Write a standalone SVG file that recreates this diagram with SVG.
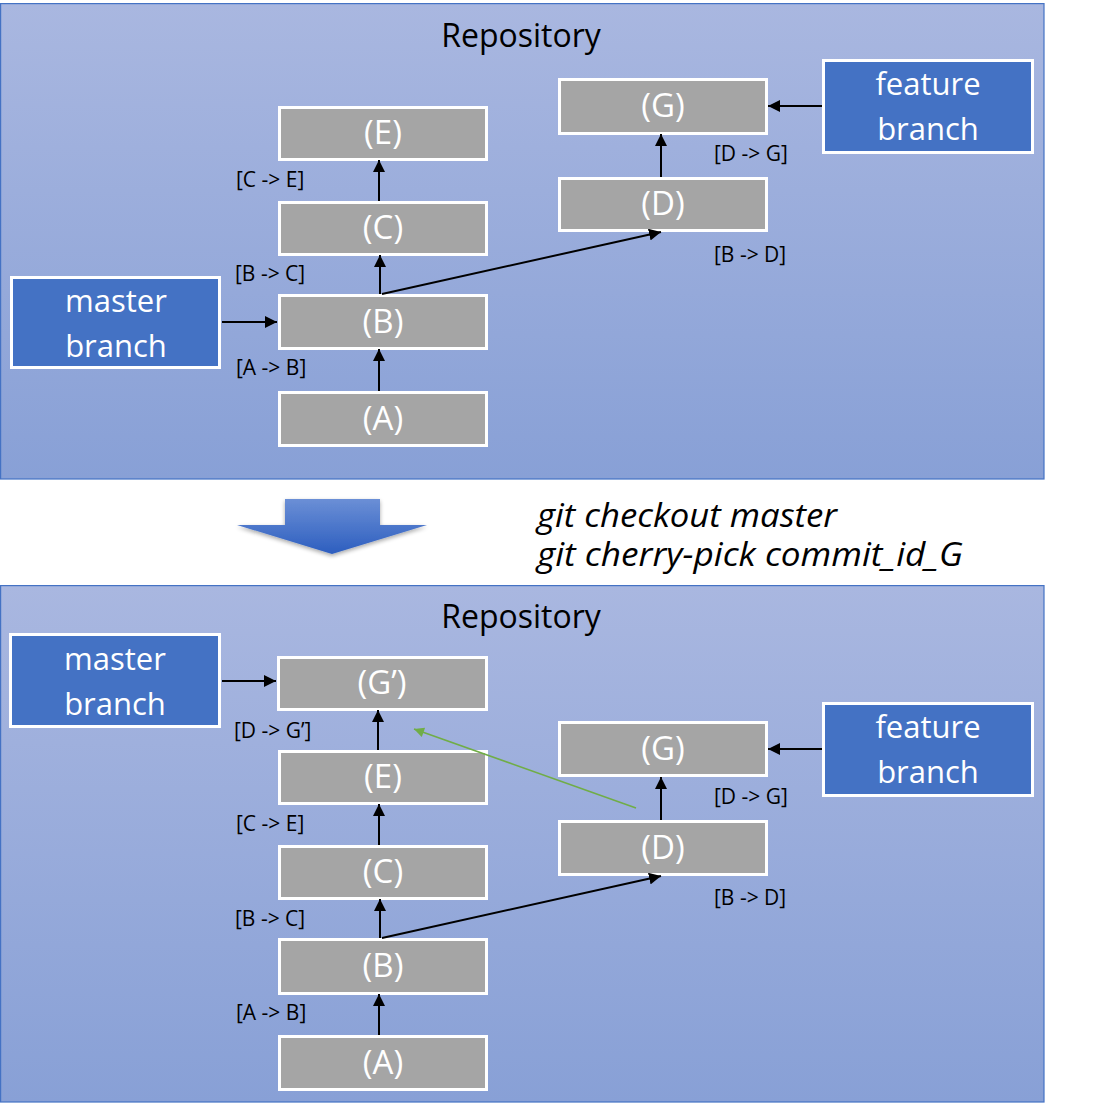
<svg xmlns="http://www.w3.org/2000/svg" width="1095" height="1108" viewBox="0 0 1095 1108">
<defs>
<linearGradient id="panelGrad" x1="0" y1="0" x2="0" y2="1">
<stop offset="0" stop-color="#a9b7e0"/>
<stop offset="1" stop-color="#88a0d6"/>
</linearGradient>
<linearGradient id="arrowGrad" x1="0" y1="0" x2="0" y2="1">
<stop offset="0" stop-color="#6b8fd6"/>
<stop offset="1" stop-color="#2d5ebf"/>
</linearGradient>
<filter id="shadow" x="-20%" y="-20%" width="140%" height="160%">
<feGaussianBlur in="SourceAlpha" stdDeviation="2"/>
<feOffset dx="0" dy="2" result="b"/>
<feComponentTransfer><feFuncA type="linear" slope="0.35"/></feComponentTransfer>
<feMerge><feMergeNode/><feMergeNode in="SourceGraphic"/></feMerge>
</filter>
<marker id="ah" markerWidth="12" markerHeight="12" refX="10" refY="5" orient="auto" markerUnits="userSpaceOnUse" viewBox="0 0 10 10">
<path d="M0,0 L10,5 L0,10 Z" fill="#000"/>
</marker>
<marker id="ahg" markerWidth="12" markerHeight="10" refX="10" refY="5" orient="auto" markerUnits="userSpaceOnUse" viewBox="0 0 10 10">
<path d="M0,0 L10,5 L0,10 Z" fill="#70ad47"/>
</marker>
</defs>
<style>
.panel{fill:url(#panelGrad);stroke:#4472c4;stroke-width:1.2}
.commit{fill:#a5a5a5;stroke:#fff;stroke-width:3}
.branch{fill:#4472c4;stroke:#fff;stroke-width:3}
.ctext{font-family:"Open Sans","Noto Sans",sans-serif;font-size:33px;fill:#fff;text-anchor:middle}
.btext{font-family:"Open Sans","Noto Sans",sans-serif;font-size:31px;fill:#fff;text-anchor:middle}
.lbl{font-family:"Open Sans","Noto Sans",sans-serif;font-size:21px;fill:#000}
.title{font-family:"Open Sans","Noto Sans",sans-serif;font-size:32px;fill:#000;text-anchor:middle}
.cmd{font-family:"Open Sans","Noto Sans",sans-serif;font-size:32px;font-style:italic;fill:#000}
.conn{stroke:#000;stroke-width:2;fill:none;marker-end:url(#ah)}
.green{stroke:#70ad47;stroke-width:1.6;fill:none;marker-end:url(#ahg)}
</style>
<rect width="1095" height="1108" fill="#fff"/>

<!-- Top panel -->
<g id="repo-top">
<rect class="panel" x="0.6" y="3.6" width="1043.4" height="475.4"/>
<text class="title" x="521" y="47">Repository</text>
</g>
<g id="top-E"><rect class="commit" x="279.5" y="107.5" width="207" height="52"/><text class="ctext" x="383" y="144">(E)</text></g>
<g id="top-C"><rect class="commit" x="279.5" y="202.5" width="207" height="52"/><text class="ctext" x="383" y="239">(C)</text></g>
<g id="top-B"><rect class="commit" x="279.5" y="295.5" width="207" height="53"/><text class="ctext" x="383" y="333">(B)</text></g>
<g id="top-A"><rect class="commit" x="279.5" y="392.5" width="207" height="53"/><text class="ctext" x="383" y="430">(A)</text></g>
<g id="top-G"><rect class="commit" x="559.5" y="79.5" width="207" height="54"/><text class="ctext" x="663" y="117">(G)</text></g>
<g id="top-D"><rect class="commit" x="559.5" y="178.5" width="207" height="52"/><text class="ctext" x="663" y="215">(D)</text></g>
<g id="top-master"><rect class="branch" x="11.5" y="277.5" width="208" height="90"/><text class="btext" x="116" y="312">master</text><text class="btext" x="116" y="357">branch</text></g>
<g id="top-feature"><rect class="branch" x="823.5" y="60.5" width="209" height="92"/><text class="btext" x="928" y="95">feature</text><text class="btext" x="928" y="140">branch</text></g>
<g id="top-labels">
<text class="lbl" x="236" y="187">[C -&gt; E]</text>
<text class="lbl" x="235" y="281">[B -&gt; C]</text>
<text class="lbl" x="236" y="375">[A -&gt; B]</text>
<text class="lbl" x="714" y="161">[D -&gt; G]</text>
<text class="lbl" x="714" y="262">[B -&gt; D]</text>
</g>
<g id="top-connectors">
<line class="conn" x1="379" y1="391" x2="379" y2="349"/>
<line class="conn" x1="380" y1="294" x2="380" y2="255"/>
<line class="conn" x1="379" y1="201" x2="379" y2="160"/>
<line class="conn" x1="382" y1="294" x2="661" y2="232"/>
<line class="conn" x1="661" y1="177" x2="661" y2="134"/>
<line class="conn" x1="222" y1="322" x2="277" y2="322"/>
<line class="conn" x1="822" y1="106" x2="768" y2="106"/>
</g>

<!-- Transition -->
<g id="transition">
<path d="M285,499 L380,499 L380,525 L427,525 L332,554 L237,525 L285,525 Z" fill="url(#arrowGrad)" filter="url(#shadow)"/>
<text class="cmd" x="537" y="527" textLength="300" lengthAdjust="spacingAndGlyphs">git checkout master</text>
<text class="cmd" x="537" y="566" textLength="426" lengthAdjust="spacingAndGlyphs">git cherry-pick commit_id_G</text>
</g>

<!-- Bottom panel -->
<g id="repo-bottom">
<rect class="panel" x="0.6" y="585.6" width="1043.4" height="516.4"/>
<text class="title" x="521" y="628">Repository</text>
</g>
<g id="bot-Gp"><rect class="commit" x="278.5" y="657.5" width="208" height="52"/><text class="ctext" x="382" y="694">(G’)</text></g>
<g id="bot-E"><rect class="commit" x="279.5" y="751.5" width="207" height="52"/><text class="ctext" x="383" y="788">(E)</text></g>
<g id="bot-C"><rect class="commit" x="279.5" y="846.5" width="207" height="52"/><text class="ctext" x="383" y="883">(C)</text></g>
<g id="bot-B"><rect class="commit" x="279.5" y="939.5" width="207" height="54"/><text class="ctext" x="383" y="977">(B)</text></g>
<g id="bot-A"><rect class="commit" x="279.5" y="1036.5" width="207" height="53"/><text class="ctext" x="383" y="1074">(A)</text></g>
<g id="bot-G"><rect class="commit" x="559.5" y="722.5" width="207" height="53"/><text class="ctext" x="663" y="760">(G)</text></g>
<g id="bot-D"><rect class="commit" x="559.5" y="821.5" width="207" height="53"/><text class="ctext" x="663" y="859">(D)</text></g>
<g id="bot-master"><rect class="branch" x="10.5" y="634.5" width="209" height="92"/><text class="btext" x="115" y="670">master</text><text class="btext" x="115" y="715">branch</text></g>
<g id="bot-feature"><rect class="branch" x="823.5" y="703.5" width="209" height="92"/><text class="btext" x="928" y="738">feature</text><text class="btext" x="928" y="783">branch</text></g>
<g id="bot-labels">
<text class="lbl" x="234" y="738">[D -&gt; G’]</text>
<text class="lbl" x="236" y="831">[C -&gt; E]</text>
<text class="lbl" x="235" y="926">[B -&gt; C]</text>
<text class="lbl" x="236" y="1020">[A -&gt; B]</text>
<text class="lbl" x="714" y="804">[D -&gt; G]</text>
<text class="lbl" x="714" y="905">[B -&gt; D]</text>
</g>
<g id="bot-connectors">
<line class="conn" x1="379" y1="1035" x2="379" y2="994"/>
<line class="conn" x1="380" y1="938" x2="380" y2="899"/>
<line class="conn" x1="379" y1="845" x2="379" y2="804"/>
<line class="conn" x1="378" y1="750" x2="378" y2="710"/>
<line class="conn" x1="382" y1="938" x2="661" y2="876"/>
<line class="conn" x1="661" y1="820" x2="661" y2="777"/>
<line class="conn" x1="222" y1="681" x2="276" y2="681"/>
<line class="conn" x1="822" y1="749" x2="768" y2="749"/>
<line class="green" x1="636" y1="808" x2="414" y2="729"/>
</g>
</svg>
